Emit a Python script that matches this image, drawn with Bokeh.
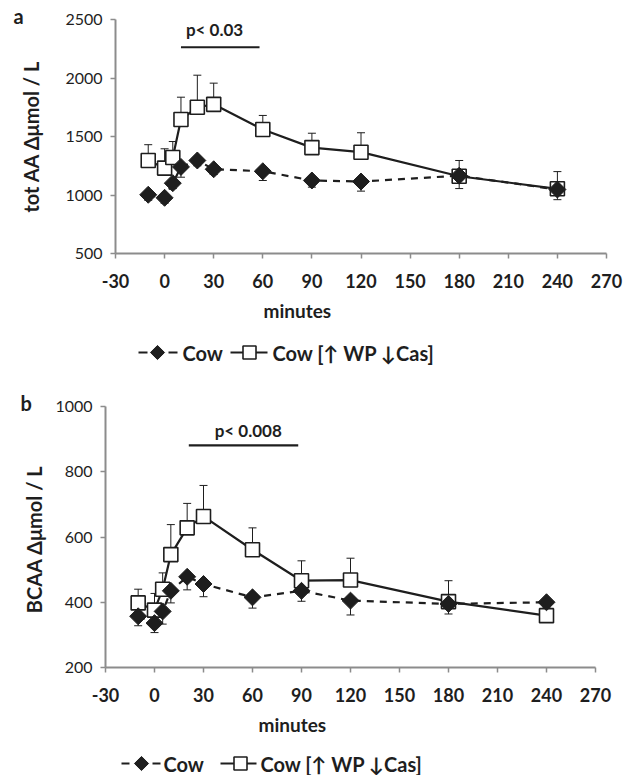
import math
from bokeh.plotting import figure
from bokeh.layouts import column
from bokeh.models import Label, Title, FixedTicker, Range1d
from bokeh.embed import file_html
from bokeh.resources import INLINE
from bokeh.core.properties import value

# ---------------- data ----------------
minutes = [-10, 0, 5, 10, 20, 30, 60, 90, 120, 180, 240]
x_ticks = [-30, 0, 30, 60, 90, 120, 150, 180, 210, 240, 270]
x_tick_labels = {t: str(t) for t in x_ticks}

# panel a : total amino acids
totaa_cow = [1002, 976, 1101, 1240, 1295, 1220, 1203, 1124, 1115, 1165, 1047]
totaa_cow_low = [955, 930, 1055, 1152, 1250, 1175, 1124, 1067, 1033, 1055, 960]
totaa_wp = [1295, 1230, 1320, 1645, 1750, 1775, 1560, 1405, 1366, 1160, 1053]
totaa_wp_high = [1430, 1395, 1457, 1836, 2024, 1956, 1680, 1528, 1532, 1295, 1200]
totaa_ticks = [500, 1000, 1500, 2000, 2500]
totaa_label = "tot AA \u0394\u03bcmol / L"

# panel b : branched-chain amino acids
bcaa_cow = [357, 336, 372, 435, 478, 456, 415, 435, 405, 395, 400]
bcaa_cow_low = [328, 307, 333, 398, 438, 417, 382, 403, 361, 364, 385]
bcaa_wp = [398, 376, 440, 546, 628, 663, 561, 466, 468, 402, 359]
bcaa_wp_high = [440, 427, 490, 638, 703, 758, 628, 527, 535, 466, 370]
bcaa_ticks = [200, 400, 600, 800, 1000]
bcaa_label = "BCAA  \u0394\u03bcmol / L"

series_names = ["Cow", "Cow [\u2191 WP \u2193Cas]"]

FONT = "Lato"
INK = "#1e1e1e"
AXIS = "#8c8c8c"
TOTAL_W = 634


def legend_strip(bl, fw, h, yc, keys):
    # same horizontal borders as its panel; x measured in page pixels
    # keys: dash1 (x0,x1), diamond x, dash2 (x0,x1), text1 x, line (x0,x1), square x, text2 x
    f = figure(frame_width=fw, frame_height=h, x_range=Range1d(bl, bl + fw),
               y_range=Range1d(0, h), x_axis_type=None, y_axis_type=None, title=None,
               output_backend="svg", toolbar_location=None,
               min_border_left=bl, min_border_right=TOTAL_W - bl - fw,
               min_border_top=0, min_border_bottom=0)
    f.grid.visible = False
    f.outline_line_color = None
    (d1, dx, d2, t1, ln, sx, t2) = keys
    f.segment(x0=[d1[0], d2[0]], y0=[yc, yc], x1=[d1[1], d2[1]], y1=[yc, yc],
              line_color=INK, line_width=2.2)
    f.scatter([dx], [yc], marker="square", angle=math.pi / 4, size=10,
              fill_color=INK, line_color=INK)
    f.segment(x0=[ln[0]], y0=[yc], x1=[ln[1]], y1=[yc], line_color=INK, line_width=2.2)
    f.scatter([sx], [yc], marker="square", size=13, fill_color="white",
              line_color=INK, line_width=1.6)
    f.text(x=[t1, t2], y=[yc, yc], text=series_names, text_align="left",
           text_baseline="middle", text_font=value(FONT), text_font_size="20px",
           text_font_style="bold", text_color=INK)
    return f


def panel(letter, letter_x, ylabel, ylabel_standoff, yr, yticks, cow, cow_low, wp, wp_high,
          sig_x, sig_y, sig_text, sig_text_x, sig_text_y,
          fw, fh, bl, bt, h, title_off):
    br = TOTAL_W - bl - fw
    bb = h - bt - fh
    p = figure(frame_width=fw, frame_height=fh, title=None,
               x_range=Range1d(-30, 270), y_range=Range1d(*yr),
               output_backend="svg", toolbar_location=None,
               min_border_left=bl, min_border_top=bt,
               min_border_bottom=bb, min_border_right=br)
    p.outline_line_color = None
    p.grid.visible = False

    for ax in (p.xaxis[0], p.yaxis[0]):
        ax.axis_line_color = AXIS
        ax.axis_line_width = 2
        ax.major_tick_line_color = AXIS
        ax.major_tick_line_width = 1.5
        ax.major_tick_out = 5
        ax.major_tick_in = 0
        ax.minor_tick_line_color = None
        ax.major_label_text_font = FONT
        ax.major_label_text_color = INK
    p.xaxis.ticker = FixedTicker(ticks=x_ticks)
    p.xaxis.major_label_overrides = x_tick_labels
    p.yaxis.ticker = FixedTicker(ticks=yticks)
    p.xaxis.major_label_text_font_size = "18px"
    p.xaxis.major_label_text_font_style = "bold"
    p.xaxis.major_label_standoff = 15
    p.yaxis.major_label_text_font_size = "16px"
    p.yaxis.major_label_standoff = 8
    p.yaxis.axis_label = ylabel
    p.yaxis.axis_label_text_font = FONT
    p.yaxis.axis_label_text_font_size = "20px"
    p.yaxis.axis_label_text_font_style = "bold"
    p.yaxis.axis_label_text_color = INK
    p.yaxis.axis_label_standoff = ylabel_standoff

    # WP series (solid, open squares, upper error bars)
    p.line(minutes, wp, line_color=INK, line_width=2.2)
    p.segment(x0=minutes, y0=wp, x1=minutes, y1=wp_high, line_color=INK, line_width=1)
    p.scatter(minutes, wp_high, marker="dash", size=8, line_color=INK, line_width=1)
    p.scatter(minutes, wp, marker="square", size=14, fill_color="white",
              line_color=INK, line_width=1.6)

    # Cow series (dashed, filled diamonds, lower error bars)
    p.line(minutes, cow, line_color=INK, line_width=2.2, line_dash="7 6")
    p.segment(x0=minutes, y0=cow, x1=minutes, y1=cow_low, line_color=INK, line_width=1)
    p.scatter(minutes, cow_low, marker="dash", size=8, line_color=INK, line_width=1)
    p.scatter(minutes, cow, marker="square", angle=math.pi / 4, size=12,
              fill_color=INK, line_color=INK)

    # significance bar
    p.line(sig_x, sig_y, line_color=INK, line_width=2.2)
    p.add_layout(Label(x=sig_text_x, y=sig_text_y, text=sig_text, text_align="center",
                       text_baseline="middle", text_font=FONT, text_font_size="17px",
                       text_font_style="bold", text_color=INK))

    # panel letter (title above, shifted left into the border)
    p.add_layout(Title(text=letter, align="left", offset=letter_x - bl, text_font=FONT,
                       text_font_size="20px", text_font_style="bold", text_color=INK,
                       standoff=-16, vertical_align="bottom"), "above")

    p.add_layout(Title(text="minutes", align="left", offset=title_off, text_font=FONT,
                       text_font_size="19px", text_font_style="bold", text_color=INK,
                       standoff=12), "below")
    return p


# ---- panel a ----
pa = panel("a", 13, totaa_label, 19, (500, 2500), totaa_ticks,
           totaa_cow, totaa_cow_low, totaa_wp, totaa_wp_high,
           [10, 58], [2263, 2263], "p< 0.03", 30.5, 2415,
           491, 234, 115, 19, 335, 148)
lega = legend_strip(115, 491, 35, 18,
                    ((138, 147), 157, (168, 177), 182, (230, 267), 249, 272))

# ---- panel b ----
pb = panel("b", 20, bcaa_label, 6, (200, 1000), bcaa_ticks,
           bcaa_cow, bcaa_cow_low, bcaa_wp, bcaa_wp_high,
           [21, 88], [881, 881], "p< 0.008", 57.4, 926,
           490, 261, 105, 36, 370, 153)
legb = legend_strip(105, 490, 34, 12,
                    ((121, 129), 141, (152, 160), 163, (220, 256), 240, 260))

layout = column(column(pa, lega, spacing=0), column(pb, legb, spacing=0), spacing=0)
open("out.html", "w").write(file_html(layout, INLINE))
